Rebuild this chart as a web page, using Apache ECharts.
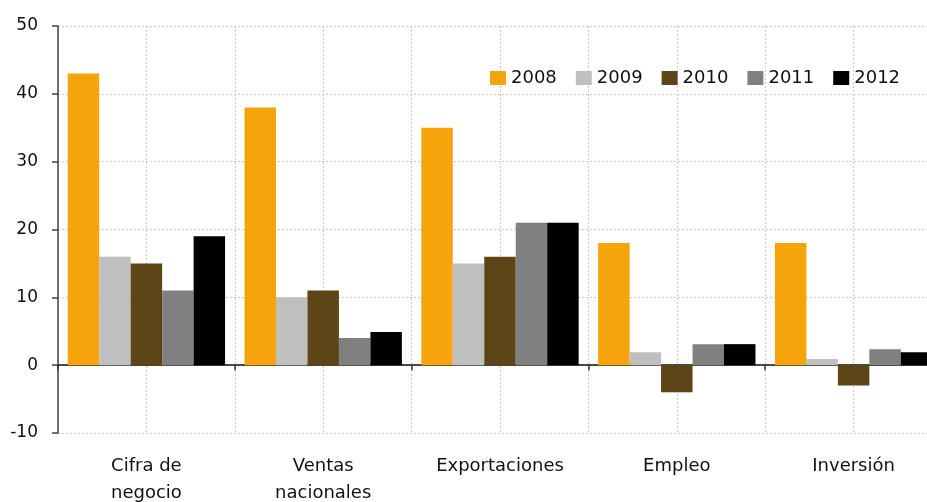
<!DOCTYPE html>
<html><head><meta charset="utf-8">
<script src="https://cdn.jsdelivr.net/npm/echarts@6/dist/echarts.min.js"></script>
<style>html,body{margin:0;padding:0;background:#fff}#c{width:927px;height:502px}</style>
</head><body><div id="c"></div>
<script>
const categories = ['Cifra de\nnegocio', 'Ventas\nnacionales', 'Exportaciones', 'Empleo', 'Inversión'];
const seriesNames = ['2008', '2009', '2010', '2011', '2012'];
const v2008 = [43, 38, 35, 18, 18];
const v2009 = [16, 10, 15, 1.9, 0.9];
const v2010 = [15, 11, 16, -4, -3];
const v2011 = [11, 4, 21, 3.1, 2.35];
const v2012 = [19, 4.9, 21, 3.1, 1.9];
const yTicks = { min: -10, max: 50, interval: 10 };
const colors = ['#F5A40C', '#BFBFBF', '#5C4516', '#808080', '#000000'];

const values = [v2008, v2009, v2010, v2011, v2012];
const font = 'DejaVu Sans';
const chart = echarts.init(document.getElementById('c'), null, {renderer: 'canvas'});
chart.setOption({
  animation: false,
  color: colors,
  grid: { left: 58, top: 26, bottom: 69, right: -15, containLabel: false, outerBoundsMode: 'none' },
  legend: {
    data: seriesNames,
    left: 485, top: 64,
    itemWidth: 16, itemHeight: 14, itemGap: 19,
    icon: 'rect',
    textStyle: { fontFamily: font, fontSize: 18, color: '#111' }
  },
  xAxis: [
    {
      type: 'category', data: categories,
      axisLine: { onZero: true, lineStyle: { color: '#111', width: 1.5 } },
      axisTick: { show: true, length: 5, alignWithLabel: false, lineStyle: { color: '#333', width: 1.5 } },
      axisLabel: { show: false },
      splitLine: { show: false }
    },
    {
      type: 'value', min: 0, max: 10, interval: 1, position: 'top',
      axisLine: { show: false }, axisTick: { show: false }, axisLabel: { show: false },
      splitLine: { show: true, lineStyle: { color: '#c8c8c8', type: [2, 2], width: 1 } }
    },
    {
      type: 'category', data: categories, position: 'bottom',
      axisLine: { show: false, onZero: false }, axisTick: { show: false },
      axisLabel: { margin: 20, fontFamily: font, fontSize: 18, color: '#111', lineHeight: 27, interval: 0 },
      splitLine: { show: false }
    }
  ],
  yAxis: {
    type: 'value', min: yTicks.min, max: yTicks.max, interval: yTicks.interval,
    axisLine: { show: true, onZero: false, lineStyle: { color: '#444', width: 1.5 } },
    axisTick: { show: true, length: 6, lineStyle: { color: '#444', width: 1.5 } },
    axisLabel: { margin: 20, fontFamily: font, fontSize: 17, color: '#111' },
    splitLine: { show: true, lineStyle: { color: '#c8c8c8', type: [2, 2], width: 1 } }
  },
  series: seriesNames.map((n, i) => ({
    name: n, type: 'bar', xAxisIndex: 0, yAxisIndex: 0,
    data: values[i], barGap: '0%', barCategoryGap: '11%',
    itemStyle: { color: colors[i] }
  }))
});
</script></body></html>
